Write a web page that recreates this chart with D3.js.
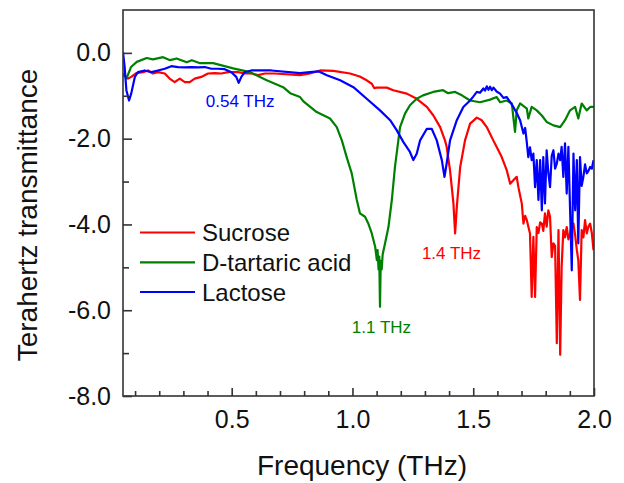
<!DOCTYPE html>
<html>
<head>
<meta charset="utf-8">
<script src="https://cdn.jsdelivr.net/npm/d3@7"></script>
<style>
html,body{margin:0;padding:0;background:#fff;}
svg{display:block;font-family:"Liberation Sans",Arial,sans-serif;}
</style>
</head>
<body>
<svg id="chart" width="624" height="483"></svg>
<script>
// ---- data ----
const seriesNames = ["Sucrose", "D-tartaric acid", "Lactose"];
const seriesColors = ["#ff0000", "#008000", "#0000ff"];

const sucroseFreq = [0.050,0.071,0.084,0.105,0.133,0.154,0.174,0.195,0.223,0.243,0.264,0.285,0.306,0.326,0.347,0.374,0.402,0.430,0.457,0.485,0.526,0.554,0.581,0.609,0.637,0.678,0.783,0.824,0.866,0.921,0.990,1.030,1.059,1.080,1.090,1.101,1.142,1.169,1.225,1.266,1.308,1.335,1.363,1.383,1.390,1.404,1.418,1.425,1.432,1.446,1.466,1.487,1.515,1.535,1.556,1.583,1.604,1.618,1.639,1.653,1.666,1.680,1.687,1.701,1.708,1.715,1.722,1.728,1.735,1.742,1.749,1.756,1.763,1.770,1.777,1.784,1.790,1.797,1.804,1.811,1.818,1.825,1.832,1.839,1.846,1.853,1.860,1.866,1.873,1.880,1.887,1.894,1.901,1.908,1.915,1.922,1.929,1.935,1.942,1.949,1.956,1.963,1.970,1.977,1.984,1.991,1.998];
const sucroseVal  = [-0.48,-0.60,-0.56,-0.47,-0.45,-0.41,-0.48,-0.45,-0.48,-0.60,-0.68,-0.60,-0.68,-0.68,-0.60,-0.56,-0.48,-0.47,-0.48,-0.45,-0.45,-0.48,-0.48,-0.52,-0.48,-0.48,-0.52,-0.48,-0.41,-0.42,-0.48,-0.55,-0.64,-0.72,-0.82,-0.81,-0.81,-0.87,-0.95,-1.07,-1.26,-1.46,-1.73,-2.04,-2.19,-2.74,-3.51,-4.21,-3.59,-2.66,-2.04,-1.65,-1.51,-1.57,-1.73,-2.04,-2.27,-2.43,-2.74,-3.05,-2.97,-2.89,-3.13,-3.51,-3.98,-3.80,-3.90,-4.05,-4.21,-5.69,-4.29,-5.69,-4.06,-4.20,-3.95,-3.98,-4.15,-3.74,-4.05,-3.67,-3.82,-4.76,-4.44,-4.50,-6.77,-4.13,-7.04,-4.99,-4.13,-4.30,-4.06,-4.35,-4.21,-3.95,-3.98,-4.25,-4.60,-4.83,-5.76,-4.13,-4.30,-3.90,-4.21,-4.05,-3.98,-4.20,-4.60];

const tartaricFreq = [0.050,0.065,0.083,0.107,0.148,0.174,0.216,0.245,0.272,0.314,0.335,0.369,0.423,0.506,0.576,0.645,0.713,0.742,0.783,0.797,0.852,0.907,0.935,0.956,0.976,0.997,1.018,1.031,1.052,1.065,1.080,1.094,1.101,1.104,1.108,1.111,1.114,1.117,1.121,1.125,1.135,1.149,1.163,1.176,1.190,1.197,1.218,1.238,1.266,1.292,1.334,1.375,1.396,1.425,1.453,1.487,1.528,1.570,1.597,1.611,1.639,1.660,1.666,1.673,1.680,1.694,1.722,1.728,1.742,1.763,1.784,1.804,1.832,1.860,1.880,1.901,1.922,1.935,1.949,1.970,1.984,2.000];
const tartaricVal  = [-0.50,-0.59,-0.33,-0.21,-0.12,-0.15,-0.10,-0.17,-0.13,-0.22,-0.17,-0.24,-0.24,-0.36,-0.45,-0.64,-0.80,-0.94,-1.03,-1.13,-1.38,-1.53,-1.73,-2.04,-2.43,-2.81,-3.43,-3.74,-3.82,-3.97,-4.21,-4.52,-4.83,-4.60,-5.05,-4.75,-5.92,-4.85,-5.05,-4.70,-4.44,-4.06,-3.43,-2.66,-2.04,-1.73,-1.41,-1.22,-1.07,-0.99,-0.91,-0.87,-0.94,-0.91,-0.99,-1.11,-1.15,-1.09,-1.03,-1.15,-1.11,-1.18,-1.50,-1.84,-1.34,-1.18,-1.30,-1.53,-1.26,-1.34,-1.46,-1.61,-1.69,-1.73,-1.57,-1.34,-1.26,-1.53,-1.18,-1.34,-1.26,-1.26];

const lactoseFreq = [0.050,0.057,0.064,0.075,0.084,0.099,0.112,0.140,0.167,0.195,0.223,0.250,0.278,0.306,0.333,0.361,0.388,0.416,0.443,0.471,0.499,0.519,0.529,0.540,0.554,0.581,0.623,0.664,0.783,0.824,0.859,0.894,0.949,1.004,1.059,1.114,1.156,1.183,1.211,1.238,1.252,1.266,1.280,1.308,1.328,1.349,1.370,1.381,1.390,1.404,1.432,1.459,1.487,1.500,1.515,1.528,1.542,1.549,1.556,1.563,1.570,1.577,1.584,1.597,1.611,1.625,1.639,1.653,1.666,1.680,1.694,1.708,1.715,1.722,1.728,1.735,1.742,1.749,1.756,1.763,1.770,1.777,1.784,1.790,1.797,1.804,1.811,1.818,1.825,1.832,1.839,1.846,1.853,1.860,1.866,1.873,1.880,1.887,1.894,1.901,1.908,1.915,1.922,1.929,1.935,1.942,1.949,1.956,1.963,1.970,1.977,1.984,1.991,1.998];
const lactoseVal  = [0.02,-0.34,-0.87,-1.11,-0.95,-0.56,-0.45,-0.41,-0.45,-0.41,-0.37,-0.31,-0.33,-0.34,-0.33,-0.34,-0.33,-0.37,-0.37,-0.38,-0.45,-0.56,-0.70,-0.56,-0.45,-0.41,-0.41,-0.41,-0.47,-0.45,-0.43,-0.52,-0.64,-0.80,-1.07,-1.34,-1.57,-1.80,-2.08,-2.31,-2.50,-2.35,-2.04,-1.77,-1.77,-2.04,-2.50,-2.89,-2.58,-2.04,-1.57,-1.26,-1.11,-1.02,-0.91,-0.93,-0.83,-0.88,-0.78,-0.86,-0.79,-0.87,-0.81,-0.90,-0.95,-1.05,-1.03,-1.15,-1.26,-1.40,-1.57,-1.88,-1.75,-2.10,-2.43,-2.20,-2.50,-2.35,-3.13,-2.50,-3.43,-2.50,-3.67,-2.43,-3.51,-2.27,-2.80,-3.13,-2.40,-2.27,-2.70,-2.58,-2.35,-2.50,-2.19,-2.89,-2.11,-3.28,-2.19,-3.67,-5.07,-2.35,-3.67,-2.50,-4.44,-2.43,-3.10,-2.89,-2.60,-2.81,-2.75,-2.66,-2.70,-2.50];

const xTickValues = [0.5, 1.0, 1.5, 2.0];
const xTickLabels = ["0.5", "1.0", "1.5", "2.0"];
const xMinorTicks = [0.1,0.2,0.3,0.4,0.6,0.7,0.8,0.9,1.1,1.2,1.3,1.4,1.6,1.7,1.8,1.9];
const yTickValues = [0, -2, -4, -6, -8];
const yTickLabels = ["0.0", "-2.0", "-4.0", "-6.0", "-8.0"];
const yMinorTicks = [-1, -3, -5, -7];

const annotations = [
  {text: "0.54 THz", f: 0.535, v: -1.25, color: "#0000ff"},
  {text: "1.4 THz", f: 1.41, v: -4.8, color: "#ff0000"},
  {text: "1.1 THz", f: 1.12, v: -6.52, color: "#008000"}
];

// ---- layout ----
const svg = d3.select("#chart");
const M = {left: 123, right: 594, top: 10, bottom: 396};
const x = d3.scaleLinear().domain([0.05, 2.0]).range([M.left, M.right]);
const y = d3.scaleLinear().domain([-8, 1]).range([M.bottom, M.top]);

svg.append("defs").append("clipPath").attr("id","clip")
  .append("rect").attr("x",M.left).attr("y",M.top).attr("width",M.right-M.left).attr("height",M.bottom-M.top);

const series = [
  {name: seriesNames[0], color: seriesColors[0], f: sucroseFreq, v: sucroseVal},
  {name: seriesNames[1], color: seriesColors[1], f: tartaricFreq, v: tartaricVal},
  {name: seriesNames[2], color: seriesColors[2], f: lactoseFreq, v: lactoseVal}
];

const line = d3.line().x(d => x(d[0])).y(d => y(d[1]));
const gLines = svg.append("g").attr("clip-path","url(#clip)");
[0, 1, 2].forEach(i => {
  const s = series[i];
  gLines.append("path")
    .datum(s.f.map((f, k) => [f, s.v[k]]))
    .attr("d", line)
    .attr("fill","none")
    .attr("stroke", s.color)
    .attr("stroke-width", 2.2)
    .attr("stroke-linejoin","round");
});

// frame
svg.append("rect").attr("x",M.left).attr("y",M.top).attr("width",M.right-M.left).attr("height",M.bottom-M.top)
  .attr("fill","none").attr("stroke","#333").attr("stroke-width",1.6);

// x ticks (inward)
const xAxis = d3.axisBottom(x).tickValues(xTickValues).tickSize(-8).tickPadding(14)
  .tickFormat((d,i) => xTickLabels[i]);
const gx = svg.append("g").attr("transform",`translate(0,${M.bottom})`).call(xAxis);
gx.select(".domain").remove();
gx.selectAll(".tick line").attr("stroke","#333").attr("stroke-width",1.6);
gx.selectAll(".tick text").attr("font-size",25).attr("fill","#111")
  .attr("font-family",'"Liberation Sans",Arial,sans-serif').attr("y",14).attr("dy","0.71em");
const gxm = svg.append("g").attr("transform",`translate(0,${M.bottom})`)
  .call(d3.axisBottom(x).tickValues(xMinorTicks).tickSize(-5).tickFormat(""));
gxm.select(".domain").remove();
gxm.selectAll(".tick line").attr("stroke","#333").attr("stroke-width",1.6);

// y ticks (inward)
const yAxis = d3.axisLeft(y).tickValues(yTickValues).tickSize(-9).tickPadding(12)
  .tickFormat((d,i) => yTickLabels[i]);
const gy = svg.append("g").attr("transform",`translate(${M.left},0)`).call(yAxis);
gy.select(".domain").remove();
gy.selectAll(".tick line").attr("stroke","#333").attr("stroke-width",1.6);
gy.selectAll(".tick text").attr("font-size",25).attr("fill","#111")
  .attr("font-family",'"Liberation Sans",Arial,sans-serif').attr("x",-12);
const gym = svg.append("g").attr("transform",`translate(${M.left},0)`)
  .call(d3.axisLeft(y).tickValues(yMinorTicks).tickSize(-6).tickFormat(""));
gym.select(".domain").remove();
gym.selectAll(".tick line").attr("stroke","#333").attr("stroke-width",1.6);

// axis titles
svg.append("text").attr("x",362).attr("y",475).attr("text-anchor","middle")
  .attr("font-size",28).attr("fill","#111").text("Frequency (THz)");
svg.append("text").attr("transform","translate(37,215) rotate(-90)").attr("text-anchor","middle")
  .attr("font-size",28).attr("fill","#111").text("Terahertz transmittance");

// legend
const legendY = [232.5, 262.3, 292];
series.forEach((s, i) => {
  svg.append("line").attr("x1",140).attr("x2",195).attr("y1",legendY[i]).attr("y2",legendY[i])
    .attr("stroke",s.color).attr("stroke-width",2.2);
  svg.append("text").attr("x",202).attr("y",legendY[i]+8.5)
    .attr("font-size",24).attr("fill","#111").text(s.name);
});

// annotations
annotations.forEach(a => {
  svg.append("text").attr("x", x(a.f)).attr("y", y(a.v)).attr("text-anchor","middle")
    .attr("font-size",17).attr("fill",a.color).text(a.text);
});
</script>
</body>
</html>
